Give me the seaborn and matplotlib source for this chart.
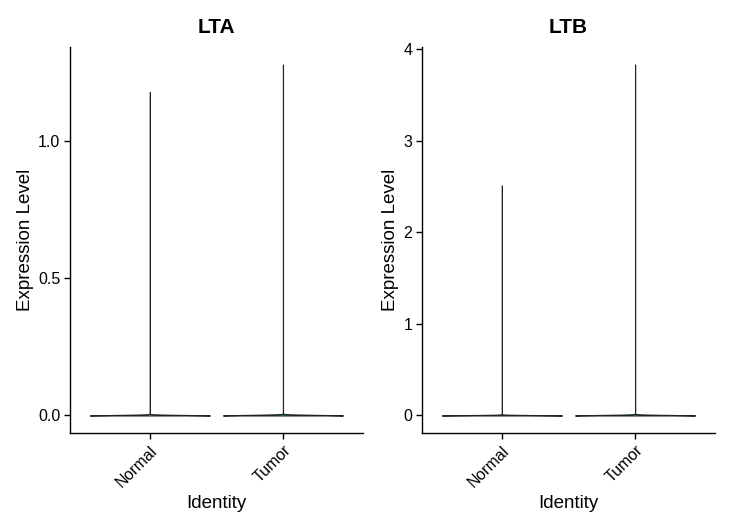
import numpy as np
import pandas as pd
import matplotlib
matplotlib.use("Agg")
import matplotlib.pyplot as plt
import seaborn as sns

# ---- data ----
groups = ["Normal", "Tumor"]
genes = ["LTA", "LTB"]
zero_counts = {"LTA": [1500, 1800], "LTB": [1500, 1800]}
nonzero_values = {
    "LTA": {"Normal": [0.42, 0.69, 1.18], "Tumor": [0.40, 0.69, 0.95, 1.28]},
    "LTB": {"Normal": [0.69, 1.10, 1.61, 2.51], "Tumor": [0.69, 1.39, 2.30, 3.83]},
}
y_ticks = {"LTA": [0.0, 0.5, 1.0], "LTB": [0, 1, 2, 3, 4]}
y_ticklabels = {"LTA": ["0.0", "0.5", "1.0"], "LTB": ["0", "1", "2", "3", "4"]}
fill_colors = ["#F8766D", "#00BFC4"]

sns.set_theme(style="ticks")
plt.rcParams["font.family"] = ["Liberation Sans", "DejaVu Sans"]
plt.rcParams["text.color"] = "black"

fig = plt.figure(figsize=(7.33, 5.30), dpi=100)
ax_pos = [[0.0955, 0.183, 0.3995, 0.7283], [0.5757, 0.183, 0.3997, 0.7283]]

for gi, gene in enumerate(genes):
    ax = fig.add_axes(ax_pos[gi])
    rows = []
    for k, g in enumerate(groups):
        vals = [0.0] * zero_counts[gene][k] + list(nonzero_values[gene][g])
        rows.append(pd.DataFrame({"Identity": g, "Expression": vals}))
    df = pd.concat(rows, ignore_index=True)
    sns.violinplot(data=df, x="Identity", y="Expression", hue="Identity",
                   palette=fill_colors, order=groups, hue_order=groups,
                   density_norm="width", cut=0, inner=None, bw_method=0.05,
                   gridsize=1500, width=0.9, linewidth=0.8, linecolor="#222222",
                   legend=False, ax=ax)
    ymax = max(max(v) for v in nonzero_values[gene].values())
    ax.set_ylim(-0.05 * ymax, ymax * 1.05)
    ax.set_xlim(-0.6, 1.6)
    ax.set_yticks(y_ticks[gene])
    ax.set_yticklabels(y_ticklabels[gene], fontsize=11.5, color="black")
    ax.set_xticks(range(len(groups)))
    ax.set_xticklabels(groups, rotation=45, ha="right", rotation_mode="anchor",
                       fontsize=11.5, color="black")
    ax.set_xlabel("Identity", fontsize=13.5, color="black", labelpad=4)
    ax.set_ylabel("Expression Level", fontsize=13.5, color="black", labelpad=3)
    ax.set_title(gene, fontsize=15, fontweight="bold", pad=10, color="black")
    for s in ["top", "right"]:
        ax.spines[s].set_visible(False)
    for s in ["left", "bottom"]:
        ax.spines[s].set_color("black")
        ax.spines[s].set_linewidth(1.0)
    ax.tick_params(axis="both", length=4, width=1.0, color="black", direction="out", pad=3)

fig.savefig("out.png", dpi=100)
